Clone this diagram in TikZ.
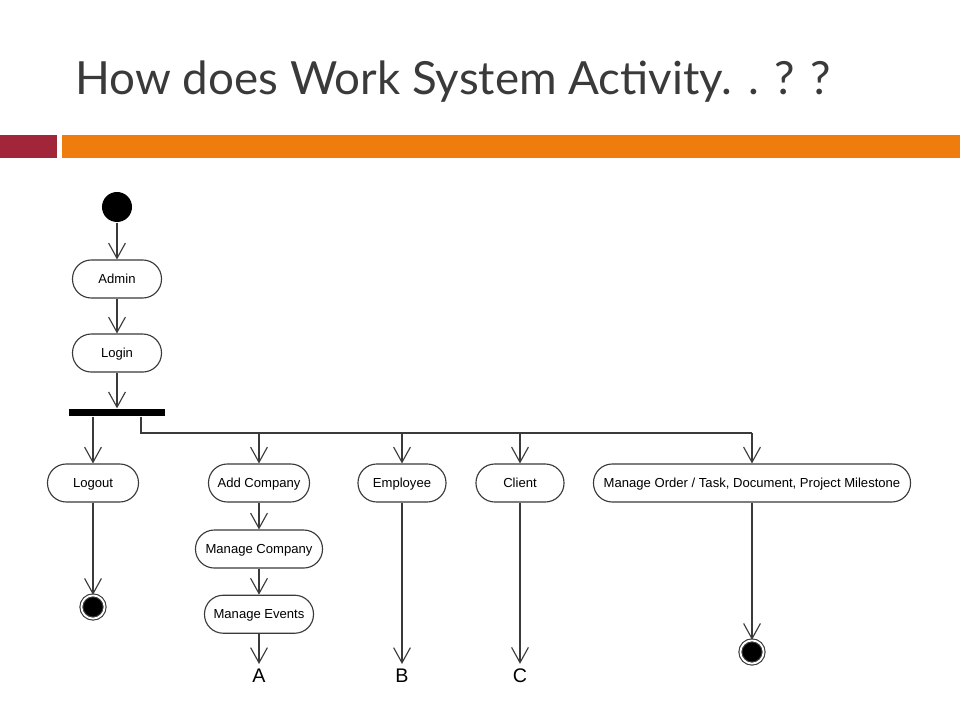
\documentclass[tikz,border=0pt]{standalone}
\usepackage{fontspec}
\setmainfont{Liberation Sans}
\newfontfamily\titlefont{Lato}
\usetikzlibrary{arrows.meta, positioning}

\definecolor{barred}{HTML}{A1263A}
\definecolor{barorange}{HTML}{EE7D0E}
\definecolor{inkgray}{HTML}{3A3A3A}

\tikzset{
  act/.style={draw=inkgray, rectangle, rounded corners=0.47cm, minimum height=0.95cm,
    inner xsep=2pt, text height=1.6ex, text depth=0.4ex,
    font=\fontsize{9.3}{11}\selectfont, text=black},
  startdot/.style={circle, fill=black, minimum size=0.75cm, inner sep=0pt},
  enddot/.style={circle, draw=inkgray, fill=black, double, double distance=1.3pt,
    minimum size=0.58cm, inner sep=0pt},
  letter/.style={font=\fontsize{14}{15}\selectfont}
}

\begin{document}
\begin{tikzpicture}[x=0.025cm, y=-0.025cm, >={Straight Barb[length=0.38cm, width=0.42cm]},
  line width=0.8pt, node distance=1.85cm]

  \useasboundingbox[fill=white] (0,0) rectangle (960,720);

  % title and bars
  \node[anchor=base west, inner sep=0pt, text=inkgray, font=\titlefont\fontsize{32.5}{36}\selectfont] (title) at (75,95) {How does Work System Activity. . ? ?};
  \fill[barred] (0,135) rectangle (57,158);
  \fill[barorange] (62,135) rectangle (960,158);

  % main chain
  \node[startdot] (start) at (117,207) {};
  \node[act, minimum width=2.225cm] (admin) at (117,279) {Admin};
  \node[act, minimum width=2.225cm] (login) [below of=admin] {Login};
  \node[fill=black, minimum width=2.4cm, minimum height=0.18cm, inner sep=0pt] (fork) at (117,412.5) {};

  % activities
  \node[act, minimum width=2.275cm] (logout) at (93,483) {Logout};
  \node[act, minimum width=2.525cm] (addco) at (259,483) {Add Company};
  \node[act, minimum width=2.2cm] (employee) at (402,483) {Employee};
  \node[act, minimum width=2.2cm] (client) at (520,483) {Client};
  \node[act, minimum width=7.925cm] (order) at (752,483) {Manage Order / Task, Document, Project Milestone};
  \node[act, minimum width=3.175cm] (manco) [below of=addco, node distance=1.65cm] {Manage Company};
  \node[act, minimum width=2.725cm] (manev) [below of=manco, node distance=1.63cm] {Manage Events};

  % ends
  \node[enddot] (endlog) at (93,607) {};
  \node[enddot] (endord) at (752,652) {};
  \node[letter] (A) at (259,676) {A};
  \node[letter] (B) at (402,676) {B};
  \node[letter] (C) at (520,676) {C};

  % junctions
  \coordinate (j0) at (141,433);
  \coordinate (jA) at (addco |- j0);
  \coordinate (jB) at (employee |- j0);
  \coordinate (jC) at (client |- j0);
  \coordinate (jD) at (order |- j0);

  \begin{scope}[draw=inkgray]
  \draw[->] (start) -- (admin);
  \draw[->] (admin) -- (login);
  \draw[->] (login) -- (fork);
  \draw[->] (fork.south -| logout) -- (logout);
  \draw (fork.south -| j0) -- (j0) -- (jD);
  \draw[->] (jA) -- (addco);
  \draw[->] (jB) -- (employee);
  \draw[->] (jC) -- (client);
  \draw[->] (jD) -- (order);
  \draw[->] (addco) -- (manco);
  \draw[->] (manco) -- (manev);
  \draw[->] (manev) -- (A);
  \draw[->] (employee) -- (B);
  \draw[->] (client) -- (C);
  \draw[->] (logout) -- (endlog);
  \draw[->] (order) -- (endord);
  \end{scope}

\end{tikzpicture}
\end{document}
